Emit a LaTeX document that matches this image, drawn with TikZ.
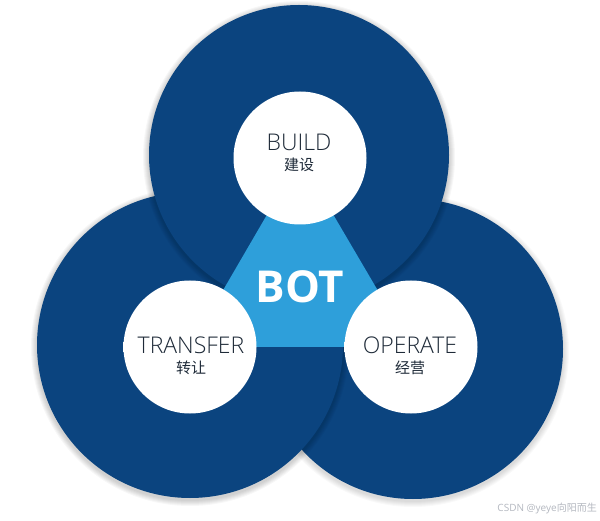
\documentclass[tikz,border=0pt]{standalone}
\usepackage{fontspec}
\setmainfont{Open Sans}
\newfontfamily\lightfont{Open Sans Light}
\newfontfamily\cjk{Noto Sans CJK SC}
\definecolor{ringblue}{HTML}{0B447F}
\definecolor{botblue}{HTML}{2E9FDA}
\definecolor{txt}{HTML}{1E2A38}
\definecolor{wm}{HTML}{B4B8C0}
\pgfdeclareradialshading{innerglow}{\pgfpoint{0bp}{0bp}}{color(0bp)=(white); color(38bp)=(white); color(45bp)=(white!94!black); color(50bp)=(white!72!black)}
\tikzset{
  ringdisk/.style={circle, fill=ringblue, minimum size=#1, inner sep=0pt},
  hole/.style={circle, shading=innerglow, minimum size=133pt, inner sep=0pt},
  en/.style={font=\lightfont\fontsize{23}{25}\selectfont, text=txt, inner sep=0pt},
  zh/.style={font=\cjk\fontsize{15}{16}\selectfont, text=txt, inner sep=0pt},
  bot/.style={font=\bfseries\fontsize{44}{46}\selectfont, text=white, inner sep=0pt},
  wmark/.style={font=\fontsize{10}{11}\selectfont, text=wm, inner sep=0pt, anchor=east},
}
\begin{document}
\begin{tikzpicture}[x=1pt,y=-1pt]
\useasboundingbox (0,0) rectangle (600,521);
\fill[white] (0,0) rectangle (600,521);
% right ring
\foreach \d in {1,...,6} \fill[black,opacity=0.025] (413,351) circle ({150+\d});
\node[ringdisk=300pt] (rring) at (413,349) {};
% left ring
\foreach \d in {1,...,6} \fill[black,opacity=0.03] (190,347) circle ({153+\d});
\node[ringdisk=306pt] (lring) at (190,345) {};
% top ring
\foreach \d in {1,...,6} \fill[black,opacity=0.03] (299,157) circle ({150+\d});
\node[ringdisk=300pt] (tring) at (299,155) {};
% centre triangle
\coordinate (tc) at (300,158);
\coordinate (lc) at (190,347);
\coordinate (rc) at (411,347);
\fill[botblue] (tc) -- (lc) -- (rc) -- cycle;
% holes
\node[hole] (thole) at (tc) {};
\node[hole] (lhole) at (lc) {};
\node[hole] (rhole) at (rc) {};
% texts
\node[en] (build) at (299,142) {BUILD};
\node[zh] (buildzh) at (299,165) {建设};
\node[en] (transfer) at (191,345) {TRANSFER};
\node[zh] (transferzh) at (191,368) {转让};
\node[en] (operate) at (410,345) {OPERATE};
\node[zh] (operatezh) at (410,368) {经营};
\node[bot] (botlabel) at (300,287) {BOT};
\node[wmark] (watermark) at (597,508) {CSDN @yeye{\cjk 向阳而生}};
\end{tikzpicture}
\end{document}
